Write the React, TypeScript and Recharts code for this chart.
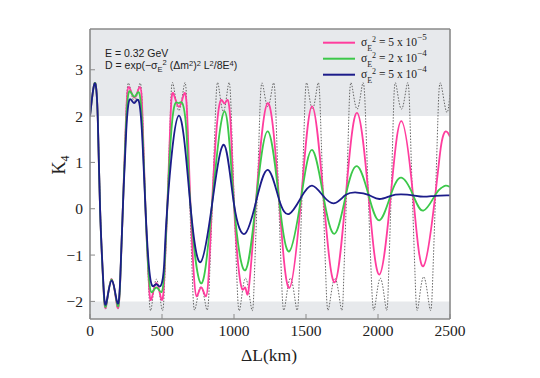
import { LineChart, Line, XAxis, YAxis, ReferenceArea } from 'recharts'

if (typeof document !== 'undefined') document.body.style.margin = '0'

// undamped (dotted)
const undampedL = [0, 18, 37, 54, 71, 91, 111, 150, 190, 210, 229, 249, 269, 308, 347, 366, 385, 405, 424, 461, 500, 519, 538, 557, 576, 617, 657, 675, 693, 711, 729, 770, 811, 830, 850, 870, 889, 926, 963, 982, 1001, 1020, 1040, 1080, 1123, 1141, 1160, 1178, 1197, 1235, 1273, 1292, 1311, 1330, 1350, 1392, 1435, 1453, 1471, 1489, 1507, 1545, 1583, 1601, 1620, 1638, 1657, 1701, 1745, 1762, 1780, 1797, 1815, 1855, 1894, 1914, 1934, 1954, 1975, 2016, 2057, 2073, 2090, 2106, 2123, 2163, 2204, 2222, 2240, 2258, 2276, 2317, 2361, 2380, 2398, 2416, 2435, 2474, 2500]
const undampedK = [2.0, 2.48, 2.72, 1.95, 0.05, -1.55, -2.14, -1.5, -2.14, -1.55, 0.05, 1.95, 2.71, 2.32, 2.71, 1.95, 0.1, -1.5, -2.18, -1.52, -2.18, -1.5, 0.12, 1.95, 2.71, 2.12, 2.71, 1.95, 0.12, -1.5, -2.18, -1.68, -2.18, -1.5, 0.15, 1.95, 2.71, 2.1, 2.71, 1.95, 0.15, -1.5, -2.18, -1.5, -2.18, -1.5, 0.15, 1.95, 2.71, 2.2, 2.71, 1.95, 0.15, -1.5, -2.17, -1.5, -2.17, -1.5, 0.15, 1.95, 2.71, 2.15, 2.71, 1.95, 0.15, -1.5, -2.17, -1.5, -2.17, -1.5, 0.15, 1.95, 2.71, 2.15, 2.71, 1.95, 0.15, -1.5, -2.17, -1.5, -2.17, -1.5, 0.15, 1.95, 2.71, 2.15, 2.71, 1.95, 0.15, -1.5, -2.17, -1.47, -2.17, -1.5, 0.15, 1.95, 2.71, 2.1, 2.5]

// sigma_E^2 = 5e-5 (pink)
const lowSpreadL = [0, 18, 37, 54, 70, 91, 111, 150, 190, 210, 228, 249, 269, 308, 347, 366, 385, 405, 424, 461, 498, 518, 537, 557, 576, 617, 657, 678, 698, 719, 740, 772, 805, 826, 847, 878, 908, 934, 958, 979, 1000, 1029, 1058, 1080, 1102, 1152, 1234, 1313, 1384, 1467, 1542, 1621, 1699, 1777, 1854, 1934, 2009, 2089, 2162, 2243, 2315, 2398, 2435, 2455, 2470, 2485, 2500]
const lowSpreadK = [2.0, 2.48, 2.71, 1.95, 0, -1.55, -2.12, -1.52, -2.12, -1.55, 0, 1.88, 2.63, 2.4, 2.63, 1.88, 0.03, -1.38, -1.97, -1.6, -1.97, -1.38, 0.05, 1.79, 2.5, 2.2, 2.5, 1.79, 0.05, -1.32, -1.89, -1.7, -1.89, -1.32, 0.08, 1.68, 2.34, 2.27, 2.34, 1.68, 0.1, -1.2, -1.74, -1.71, -1.74, 0.14, 2.28, 0.2, -1.71, 0.25, 2.21, 0.27, -1.59, 0.3, 2.07, 0.3, -1.42, 0.3, 1.89, 0.3, -1.24, 0.3, 1.3, 1.6, 1.67, 1.64, 1.55]

// sigma_E^2 = 2e-4 (green)
const midSpreadL = [0, 18, 37, 54, 70, 91, 111, 150, 190, 210, 228, 250, 272, 307, 340, 363, 385, 405, 426, 461, 496, 517, 537, 563, 590, 617, 644, 671, 698, 770, 847, 935, 1000, 1078, 1152, 1234, 1313, 1384, 1467, 1542, 1621, 1699, 1777, 1854, 1934, 2009, 2089, 2162, 2243, 2315, 2398, 2440, 2470, 2500]
const midSpreadK = [2.0, 2.48, 2.71, 1.95, 0, -1.55, -2.1, -1.53, -2.08, -1.55, 0, 1.8, 2.53, 2.42, 2.51, 1.8, 0.03, -1.3, -1.8, -1.7, -1.8, -1.3, 0.05, 1.6, 2.26, 2.28, 2.26, 1.6, 0.05, -1.61, 0.08, 2.1, 0.1, -1.33, 0.14, 1.67, 0.2, -0.92, 0.25, 1.27, 0.27, -0.54, 0.3, 0.92, 0.3, -0.25, 0.3, 0.67, 0.3, -0.04, 0.3, 0.45, 0.5, 0.47]

// sigma_E^2 = 5e-4 (navy)
const highSpreadL = [0, 18, 37, 54, 70, 91, 111, 150, 190, 210, 228, 252, 275, 306, 335, 360, 385, 408, 432, 461, 492, 515, 537, 617, 698, 769, 847, 930, 1000, 1076, 1152, 1234, 1313, 1384, 1467, 1542, 1621, 1699, 1777, 1854, 1934, 2009, 2089, 2162, 2243, 2315, 2398, 2477, 2500]
const highSpreadK = [2.0, 2.48, 2.7, 1.95, 0, -1.5, -2.06, -1.55, -2.03, -1.5, 0, 1.7, 2.36, 2.28, 2.35, 1.7, 0.03, -1.2, -1.66, -1.63, -1.66, -1.2, 0.05, 2.01, 0.05, -1.15, 0.08, 1.38, 0.1, -0.54, 0.14, 0.84, 0.2, -0.11, 0.25, 0.5, 0.27, 0.12, 0.3, 0.35, 0.3, 0.21, 0.28, 0.31, 0.29, 0.26, 0.28, 0.29, 0.29]

const xTicks = [0, 500, 1000, 1500, 2000, 2500]
const yTicks = [-2, -1, 0, 1, 2, 3]

const legendMantissa = ['5 x 10', '2 x 10', '5 x 10']
const legendExponent = ['−5', '−4', '−4']
const legendColors = ['#ff3d9e', '#3cc84a', '#1c1c8a']

const toPoints = (ls: number[], ks: number[]) => ls.map((L, i) => ({ L, K: ks[i] }))

const serif = '"Liberation Serif", "Times New Roman", serif'
const sans = '"Liberation Sans", Arial, Helvetica, sans-serif'
const frame = '#8a8a8a'
const shade = '#e7e9ec'

const fmt = (v: number) => (v < 0 ? `−${-v}` : `${v}`)

const XTick = (props: any) => (
  <text x={props.x} y={props.y} dy="0.71em" textAnchor="middle" fontFamily={serif} fontSize={15.5} fill="#222">
    {props.payload.value}
  </text>
)

const YTick = (props: any) => (
  <text x={props.x} y={props.y} dy="0.355em" textAnchor="end" fontFamily={serif} fontSize={15.5} fill="#222">
    {fmt(props.payload.value)}
  </text>
)

export default function App() {
  return (
    <div style={{ position: 'relative', width: 540, height: 378, background: '#fff' }}>
      <LineChart width={540} height={378} margin={{ top: 25, right: 86, bottom: 0, left: 0 }}>
        <ReferenceArea y1={2} y2={3.88} fill={shade} fillOpacity={1} stroke="none" />
        <ReferenceArea y1={-2.38} y2={-2} fill={shade} fillOpacity={1} stroke="none" />
        <XAxis
          type="number"
          dataKey="L"
          domain={[0, 2500]}
          ticks={xTicks}
          interval={0}
          allowDataOverflow
          height={59}
          tickSize={-5}
          tickMargin={10.5}
          axisLine={{ stroke: frame, strokeWidth: 1.6 }}
          tickLine={{ stroke: frame }}
          tick={<XTick />}
        />
        <XAxis
          xAxisId="top"
          orientation="top"
          type="number"
          dataKey="L"
          domain={[0, 2500]}
          ticks={xTicks}
          interval={0}
          allowDataOverflow
          height={4}
          tickSize={-4}
          tick={false}
          axisLine={{ stroke: frame, strokeWidth: 1.6 }}
          tickLine={{ stroke: frame }}
        />
        <YAxis
          type="number"
          domain={[-2.38, 3.88]}
          ticks={yTicks}
          interval={0}
          allowDataOverflow
          width={90}
          tickSize={-5}
          tickMargin={12}
          axisLine={{ stroke: frame, strokeWidth: 1.6 }}
          tickLine={{ stroke: frame }}
          tick={<YTick />}
        />
        <YAxis
          yAxisId="right"
          orientation="right"
          type="number"
          domain={[-2.38, 3.88]}
          ticks={yTicks}
          interval={0}
          allowDataOverflow
          width={4}
          tickSize={-4}
          tick={false}
          axisLine={{ stroke: frame, strokeWidth: 1.6 }}
          tickLine={{ stroke: frame }}
        />
        <Line
          data={toPoints(undampedL, undampedK)}
          dataKey="K"
          type="natural"
          dot={false}
          stroke="#555"
          strokeWidth={0.9}
          strokeDasharray="1.5 1.5"
          isAnimationActive={false}
        />
        <Line
          data={toPoints(lowSpreadL, lowSpreadK)}
          dataKey="K"
          type="natural"
          dot={false}
          stroke={legendColors[0]}
          strokeWidth={1.8}
          isAnimationActive={false}
        />
        <Line
          data={toPoints(midSpreadL, midSpreadK)}
          dataKey="K"
          type="natural"
          dot={false}
          stroke={legendColors[1]}
          strokeWidth={1.8}
          isAnimationActive={false}
        />
        <Line
          data={toPoints(highSpreadL, highSpreadK)}
          dataKey="K"
          type="natural"
          dot={false}
          stroke={legendColors[2]}
          strokeWidth={1.8}
          isAnimationActive={false}
        />
      </LineChart>

      <svg width={540} height={378} style={{ position: 'absolute', left: 0, top: 0, pointerEvents: 'none' }}>
        {/* annotations */}
        <text x={105} y={57} fontFamily={sans} fontSize={10.5} fill="#222">E = 0.32 GeV</text>
        <text x={105} y={69} fontFamily={sans} fontSize={10.5} fill="#222">
          D = exp(−σ<tspan fontSize={7.5} dy={3}>E</tspan>
          <tspan fontSize={7.5} dy={-7.5}>2</tspan>
          <tspan dy={4.5}> (Δm</tspan>
          <tspan fontSize={7.5} dy={-3.5}>2</tspan>
          <tspan dy={3.5}>)</tspan>
          <tspan fontSize={7.5} dy={-3.5}>2</tspan>
          <tspan dy={3.5}> L</tspan>
          <tspan fontSize={7.5} dy={-3.5}>2</tspan>
          <tspan dy={3.5}>/8E</tspan>
          <tspan fontSize={7.5} dy={-3.5}>4</tspan>
          <tspan dy={3.5}>)</tspan>
        </text>

        {/* legend */}
        {legendMantissa.map((m, i) => {
          const base = 46 + i * 16
          return (
            <g key={m + i}>
              <line x1={323} x2={355} y1={base - 3.3} y2={base - 3.3} stroke={legendColors[i]} strokeWidth={2} />
              <text x={361} y={base} fontFamily={serif} fontSize={11.5} fill="#222">
                σ<tspan fontSize={8} dy={4.5}>E</tspan>
                <tspan fontSize={8} dy={-9}>2</tspan>
                <tspan dy={4.5}> = {m}</tspan>
                <tspan fontSize={9} dy={-6.5}>{legendExponent[i]}</tspan>
              </text>
            </g>
          )
        })}

        {/* axis titles */}
        <text
          x={65}
          y={165}
          transform="rotate(-90 65 165)"
          textAnchor="middle"
          fontFamily={serif}
          fontSize={18}
          fill="#222"
        >
          K<tspan fontSize={12} dy={4}>4</tspan>
        </text>
        <text x={269} y={361} textAnchor="middle" fontFamily={serif} fontSize={17.5} fill="#222">
          ΔL(km)
        </text>
      </svg>
    </div>
  )
}
